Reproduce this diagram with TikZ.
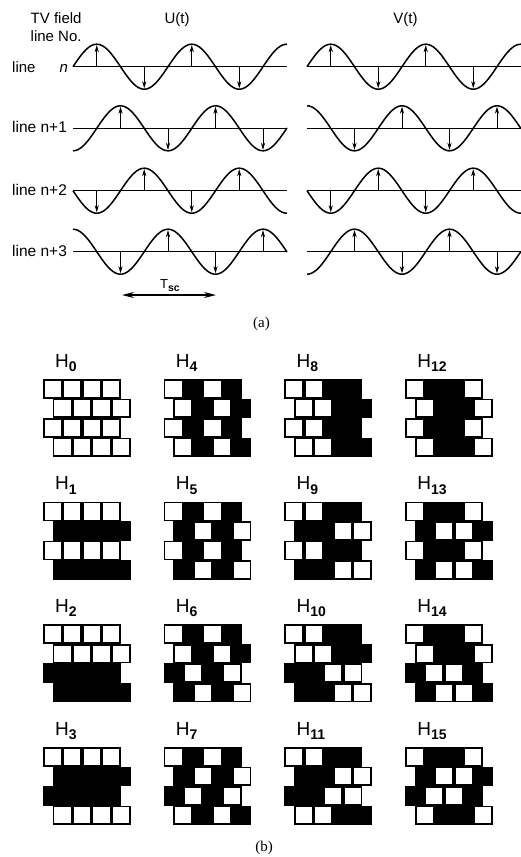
\documentclass[tikz,border=0pt]{standalone}
\usepackage{fontspec}
\setmainfont{Liberation Serif}
\setsansfont{Liberation Sans}
\usetikzlibrary{arrows.meta}

\tikzset{
  wave/.style={black, line width=1.5pt, line join=round},
  axisline/.style={black, line width=0.9pt},
  vec/.style={-{Stealth[length=7pt, width=4.2pt]}, line width=0.7pt},
  tspan/.style={{Stealth[length=12pt, width=6pt]}-{Stealth[length=12pt, width=6pt]}, line width=1.1pt},
  txt/.style={font=\sffamily\fontsize{15}{18}\selectfont, inner sep=0pt},
}

\newcommand{\hlabel}[1]{H\raisebox{-4.5pt}{\fontsize{14}{14}\selectfont\bfseries #1}}

\begin{document}
\begin{tikzpicture}[x=1pt, y=-1pt]

% --- parameters ---
\def\per{95}     % subcarrier period
\def\amp{22.5}   % amplitude of the traces
\def\len{214}    % length of one trace
\def\cs{19.5}    % cell size of the patterns
\def\ins{1.7}    % black border left round a white cell
\def\walsh{{1,1,1,1, 1,-1,1,-1, 1,1,-1,-1, 1,-1,-1,1}}

% --- page ---
\useasboundingbox (0,0) rectangle (520,857);
\fill[white] (0,0) rectangle (520,857);

% --- (a) headings ---
\node[txt, anchor=base west] (tvfield) at (30.5,23.3) {TV field};
\node[txt, anchor=base west] (lineno)  at (30.5,41.7) {line No.};
\node[txt, anchor=base] (uhead) at (177,23.3)   {U(t)};
\node[txt, anchor=base] (vhead) at (405.5,23.3) {V(t)};

% --- line labels ---
\node[txt, anchor=base west] (ln0) at (12,72.5)  {line\hspace{24pt}\textit{n}};
\node[txt, anchor=base west, font=\sffamily\fontsize{15.5}{18}\selectfont] (ln1) at (12,132)   {line n+1};
\node[txt, anchor=base west, font=\sffamily\fontsize{15.5}{18}\selectfont] (ln2) at (12,195.5) {line n+2};
\node[txt, anchor=base west, font=\sffamily\fontsize{15.5}{18}\selectfont] (ln3) at (12,256)   {line n+3};

% --- traces: start / axis / phase / first arrow ---
\foreach \xa/\ya/\ph/\ta in {73/66.7/0/23.75, 73/128.3/-90/47.5,
                             73/190.7/180/23.75, 73/251.7/90/47.5,
                             307/66.7/0/23.75, 307/128.3/90/47.5,
                             307/190.7/180/23.75, 307/251.7/-90/47.5} {
    \draw[axisline] (\xa,\ya) -- ++(\len,0);
    \draw[wave] plot[domain=0:\len, samples=120, smooth]
        ({\xa+\x}, {\ya-\amp*sin((360/\per)*\x+\ph)});
    % arrows at the peaks and troughs
    \foreach \k in {0,...,3} {
        \pgfmathsetmacro\tpos{\ta+\k*\per/2}
        \pgfmathsetmacro\updown{sin((360/\per)*\tpos+\ph)}
        \pgfmathsetmacro\ytip{\ya-\updown*(\amp-1)}
        \draw[vec] (\xa+\tpos,\ya) -- (\xa+\tpos,\ytip);
    }
}

% --- subcarrier period ---
\coordinate (tsl) at (122,295);
\coordinate (tsr) at (216,295);
\draw[tspan] (tsl) -- (tsr);
\node[anchor=base, inner sep=0pt, font=\sffamily\fontsize{13}{13}\selectfont]
    (tsc) at (170,288) {T\raisebox{-3.5pt}{\fontsize{10.5}{10.5}\selectfont\bfseries sc}};

\node[anchor=base, inner sep=0pt, font=\fontsize{15}{15}\selectfont] (capa) at (261.5,327) {(a)};

% --- (b) patterns H0 ... H15 ---
\foreach \c in {0,...,3} {
    \foreach \r in {0,...,3} {
        \pgfmathsetmacro\px{43+120.7*\c}
        \pgfmathsetmacro\py{379+122.7*\r}
        \pgfmathtruncatemacro\hk{4*\c+\r}
        \node[anchor=base west, inner sep=0pt, font=\sffamily\fontsize{19}{19}\selectfont]
            (h\hk) at (\px+12,\py-12) {\hlabel{\hk}};
        \foreach \i in {0,...,3} {
            \pgfmathsetmacro\rx{\px+mod(\i,2)*\cs/2}
            \pgfmathsetmacro\ry{\py+\i*\cs}
            \fill[black] (\rx,\ry) rectangle +(4*\cs,\cs);
            \foreach \j in {0,...,3} {
                \pgfmathtruncatemacro\s{\walsh[4*\r+\i]*\walsh[4*\c+\j]}
                \ifnum\s>0
                    \fill[white] (\rx+\j*\cs+\ins, \ry+\ins)
                        rectangle +(\cs-2*\ins, \cs-2*\ins);
                \fi
            }
        }
    }
}

\node[anchor=base, inner sep=0pt, font=\fontsize{15}{15}\selectfont] (capb) at (264,851) {(b)};

\end{tikzpicture}
\end{document}
